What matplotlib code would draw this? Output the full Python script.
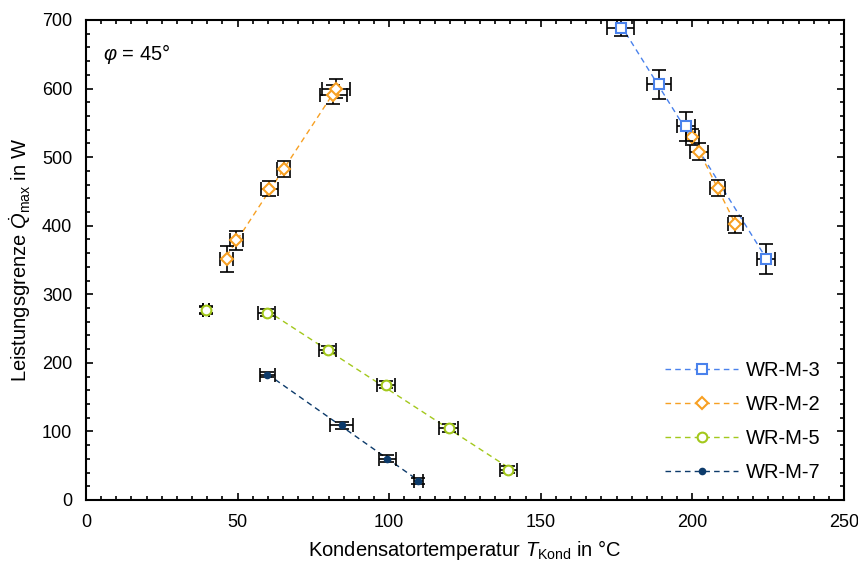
import numpy as np
import matplotlib.pyplot as plt
from matplotlib.ticker import MultipleLocator

plt.rcParams['font.family'] = ['Liberation Sans', 'DejaVu Sans']
plt.rcParams['mathtext.fontset'] = 'custom'
plt.rcParams['mathtext.rm'] = 'Liberation Sans'
plt.rcParams['mathtext.it'] = 'Liberation Sans:italic'

# WR-M-3
m3_x = [176.3, 188.9, 197.8, 224.2]
m3_y = [689, 606, 545, 351]
m3_xerr = [4.5, 4.0, 3.0, 3.0]
m3_yerr = [13, 21, 21, 22]
m3_grp = [1, 1, 1, 1]

# WR-M-2
m2_x = [46.4, 49.6, 60.4, 65.2, 81.6, 82.5, 200.0, 202.2, 208.4, 214.2]
m2_y = [352, 379, 454, 483, 591, 600, 529, 508, 455, 402]
m2_xerr = [2.2, 2.2, 2.8, 2.2, 4.5, 4.5, 2.2, 3.0, 2.5, 2.4]
m2_yerr = [19, 14, 11, 12, 14, 14, 12, 12, 11, 12]
m2_grp = [1, 1, 1, 1, 1, 1, 2, 2, 2, 2]

# WR-M-5
m5_x = [39.5, 59.6, 79.8, 99.0, 119.6, 139.3]
m5_y = [277, 273, 219, 168, 105, 44]
m5_xerr = [1.0, 2.8, 2.8, 3.0, 3.2, 2.8]
m5_yerr = [5, 5, 5, 5, 6, 5]
m5_grp = [0, 1, 1, 1, 1, 1]

# WR-M-7
m7_x = [39.5, 59.8, 84.3, 99.4, 109.6]
m7_y = [277, 183, 109, 60, 28]
m7_xerr = [1.0, 2.5, 3.8, 2.7, 1.5]
m7_yerr = [6, 4, 5, 5, 4]
m7_grp = [0, 1, 1, 1, 1]

series = [
    ('WR-M-7', m7_x, m7_y, m7_xerr, m7_yerr, m7_grp, '#0d3b6b', 'o', '#0d3b6b', 4),
    ('WR-M-5', m5_x, m5_y, m5_xerr, m5_yerr, m5_grp, '#a3c81c', 'o', 'white', 7),
    ('WR-M-2', m2_x, m2_y, m2_xerr, m2_yerr, m2_grp, '#f7a023', 'D', 'white', 6.5),
    ('WR-M-3', m3_x, m3_y, m3_xerr, m3_yerr, m3_grp, '#4a82ec', 's', 'white', 7),
]

fig = plt.figure(figsize=(8.58, 5.65), dpi=100)
ax = fig.add_axes([86 / 858, 1 - 500 / 565, 758 / 858, 480 / 565])

handles = {}
for i, (name, x, y, xe, ye, grp, col, mk, fc, ms) in enumerate(series):
    x = np.array(x); y = np.array(y); grp = np.array(grp)
    z = 3 + i
    # trend lines per group
    for g in np.unique(grp):
        if g == 0:
            continue
        sel = grp == g
        k, d = np.polyfit(x[sel], y[sel], 1)
        xs = np.array([x[sel].min(), x[sel].max()])
        ax.plot(xs, k * xs + d, color=col, lw=1, dashes=(4, 3), zorder=2, clip_on=True)
    ax.errorbar(x, y, xerr=xe, yerr=ye, fmt='none', ecolor='black',
                elinewidth=1.2, capsize=5, capthick=1.2, zorder=z)
    ax.plot(x, y, ls='none', marker=mk, ms=ms, mfc=fc, mec=col, mew=1.5, zorder=z + 0.5)
    handles[name], = ax.plot([], [], color=col, lw=1, dashes=(4, 3), marker=mk,
                             ms=ms, mfc=fc, mec=col, mew=1.5)

ax.set_xlim(0, 250)
ax.set_ylim(0, 700)
ax.xaxis.set_major_locator(MultipleLocator(50))
ax.xaxis.set_minor_locator(MultipleLocator(5))
ax.yaxis.set_major_locator(MultipleLocator(100))
ax.yaxis.set_minor_locator(MultipleLocator(20))
ax.tick_params(which='both', direction='in', top=True, right=True, labelsize=13, width=1.2)
ax.tick_params(which='major', length=5, pad=10)
ax.tick_params(which='minor', length=3)
for s in ax.spines.values():
    s.set_linewidth(1.5)

ax.set_xlabel(r'Kondensatortemperatur $T_{\rm Kond}$ in °C', fontsize=14.5, labelpad=5)
ax.set_ylabel(r'Leistungsgrenze $\dot{Q}_{\rm max}$ in W', fontsize=14.5, labelpad=6)
ax.text(0.022, 0.93, r'$\varphi$ = 45°', transform=ax.transAxes, fontsize=14.5,
        va='center', ha='left')

order = ['WR-M-3', 'WR-M-2', 'WR-M-5', 'WR-M-7']
ax.legend([handles[n] for n in order], order, loc='lower right', frameon=False,
          fontsize=14.5, handlelength=3.6, handletextpad=0.4, labelspacing=0.75,
          bbox_to_anchor=(0.993, 0.0))

fig.savefig('out.png', dpi=100)
